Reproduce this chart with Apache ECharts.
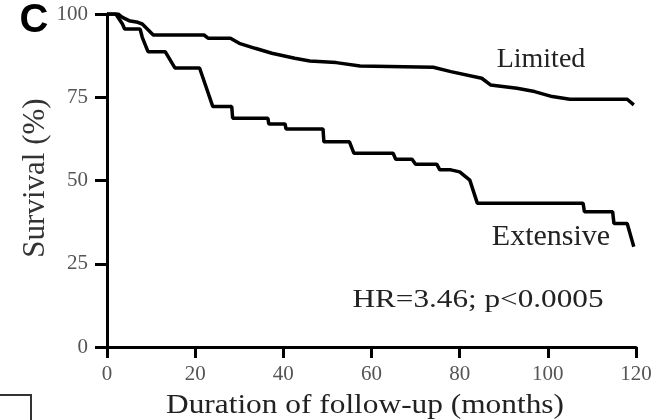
<!DOCTYPE html>
<html>
<head>
<meta charset="utf-8">
<script src="https://cdn.jsdelivr.net/npm/echarts@6/dist/echarts.min.js"></script>
<style>html,body{margin:0;padding:0;background:#fff;}#c{width:661px;height:420px;}</style>
</head>
<body>
<div id="c"></div>
<script>
// Kaplan-Meier estimates (month, survival %)
const limitedMonths   = [0, 2.5, 3.5, 5, 7, 8, 10.5, 22, 23, 28, 30, 33.6, 37.4, 42.6, 46, 52, 57.4, 74, 78, 85, 87, 93, 97, 101, 105, 118, 119.5];
const limitedSurvival = [100, 100, 99, 98, 97.5, 97, 93.7, 93.7, 92.7, 92.7, 91.2, 89.7, 88.2, 86.7, 85.9, 85.4, 84.4, 84, 82.7, 80.7, 78.7, 77.7, 76.7, 75.2, 74.4, 74.4, 72.7];
const extensiveMonths   = [0, 2, 3.5, 4, 7.5, 8, 9.3, 13.2, 15.4, 21, 22.5, 24, 28.3, 28.5, 36.5, 36.7, 40.4, 40.6, 49, 49.2, 55, 56, 64.9, 65.5, 69.2, 70, 74.8, 75.5, 78, 80, 82.3, 84, 108, 108.3, 114.7, 115, 118, 119.5];
const extensiveSurvival = [100, 100, 97, 95.5, 95.5, 93, 88.7, 88.7, 83.8, 83.8, 78, 72.2, 72.2, 68.7, 68.7, 67, 67, 65.5, 65.5, 61.6, 61.6, 58.2, 58.2, 56.4, 56.4, 54.9, 54.9, 53.2, 53.2, 52.6, 50.1, 43.2, 43.2, 40.6, 40.6, 37.1, 37.1, 30.1];
const xTicks = [0, 20, 40, 60, 80, 100, 120];
const yTicks = [0, 25, 50, 75, 100];
const seriesNames = ['Limited', 'Extensive'];
const annotation = 'HR=3.46; p<0.0005';
const xTitle = 'Duration of follow-up (months)';
const yTitle = 'Survival (%)';
const panelLabel = 'C';

const pair = (xs, ys) => xs.map((x, i) => [x, ys[i]]);
const serif = '"Liberation Serif","Times New Roman",serif';

const chart = echarts.init(document.getElementById('c'), null, {renderer: 'canvas'});
chart.setOption({
  animation: false,
  backgroundColor: '#fff',
  grid: {left: 107, right: 25, top: 14, bottom: 73, containLabel: false},
  xAxis: {
    type: 'value', min: xTicks[0], max: xTicks[xTicks.length - 1], interval: 20,
    axisLine: {lineStyle: {color: '#000', width: 3}},
    axisTick: {show: true, inside: false, length: 11, lineStyle: {color: '#000', width: 3}},
    axisLabel: {margin: 17, color: '#555', fontFamily: serif, fontSize: 21},
    splitLine: {show: false}
  },
  yAxis: {
    type: 'value', min: yTicks[0], max: yTicks[yTicks.length - 1], interval: 25,
    axisLine: {show: true, lineStyle: {color: '#000', width: 3}},
    axisTick: {show: true, inside: false, length: 12, lineStyle: {color: '#000', width: 3}},
    axisLabel: {margin: 19, color: '#555', fontFamily: serif, fontSize: 21},
    splitLine: {show: false}
  },
  series: [
    {name: seriesNames[0], type: 'line', data: pair(limitedMonths, limitedSurvival), showSymbol: false, symbol: 'none',
     lineStyle: {color: '#000', width: 3.5}, z: 3},
    {name: seriesNames[1], type: 'line', data: pair(extensiveMonths, extensiveSurvival), showSymbol: false, symbol: 'none',
     lineStyle: {color: '#000', width: 3.5}, z: 3}
  ],
  graphic: [
    {type: 'text', x: 34, y: 21, style: {text: panelLabel, font: 'bold 40px "Liberation Sans",Arial,sans-serif', fill: '#000', align: 'center', verticalAlign: 'middle'}},
    {type: 'text', x: 365, y: 406, scaleX: 1.12, style: {text: xTitle, font: '28px ' + serif, fill: '#222', align: 'center', verticalAlign: 'middle'}},
    {type: 'text', x: 36, y: 178, rotation: Math.PI / 2, style: {text: yTitle, font: '31px ' + serif, fill: '#333', align: 'center', verticalAlign: 'middle'}},
    {type: 'text', x: 478, y: 300, scaleX: 1.2, style: {text: annotation, font: '26px ' + serif, fill: '#222', align: 'center', verticalAlign: 'middle'}},
    {type: 'text', x: 541, y: 60, style: {text: seriesNames[0], font: '28px ' + serif, fill: '#222', align: 'center', verticalAlign: 'middle'}},
    {type: 'text', x: 551, y: 237, style: {text: seriesNames[1], font: '30px ' + serif, fill: '#222', align: 'center', verticalAlign: 'middle'}},
    {type: 'rect', shape: {x: -5, y: 395, width: 36, height: 40}, style: {fill: 'none', stroke: '#333', lineWidth: 2}}
  ]
});
</script>
</body>
</html>
